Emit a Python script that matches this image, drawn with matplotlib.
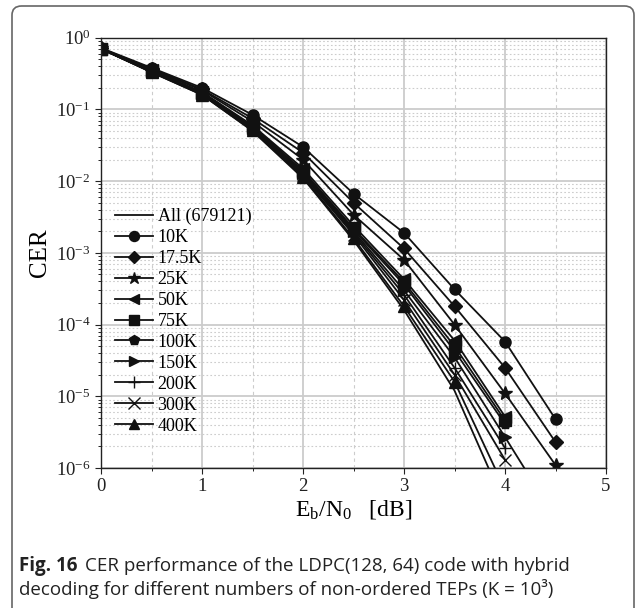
import numpy as np
import matplotlib
matplotlib.use("Agg")
import matplotlib.pyplot as plt
from matplotlib.patches import FancyBboxPatch
from matplotlib.ticker import LogLocator, NullFormatter, MultipleLocator

plt.rcParams['font.family'] = ['Liberation Serif', 'DejaVu Serif']
plt.rcParams['mathtext.fontset'] = 'stix'

ebn0 = [0, 0.5, 1, 1.5, 2, 2.5, 3, 3.5, 4, 4.5]
nan = np.nan
labels = ["All (679121)", "10K", "17.5K", "25K", "50K", "75K", "100K",
          "150K", "200K", "300K", "400K"]
markers = [None, 'o', 'D', '*', '<', 's', 'p', '>', '+', 'x', '^']

cer_all = [0.70, 0.33, 0.16, 0.050, 0.0110, 0.0015, 0.00016, 1.2e-5, 3e-7, nan]
cer_10k = [0.72, 0.38, 0.20, 0.084, 0.030, 0.0067, 0.0019, 3.1e-4, 5.8e-5, 4.8e-6]
cer_17k5 = [0.71, 0.37, 0.19, 0.075, 0.025, 0.0050, 0.00115, 1.8e-4, 2.5e-5, 2.3e-6]
cer_25k = [0.71, 0.36, 0.185, 0.068, 0.020, 0.0034, 0.00080, 1.0e-4, 1.1e-5, 1.1e-6]
cer_50k = [0.70, 0.35, 0.175, 0.060, 0.015, 0.0024, 0.00043, 6.0e-5, 5.2e-6, nan]
cer_75k = [0.70, 0.345, 0.172, 0.058, 0.014, 0.0022, 0.00039, 5.0e-5, 4.6e-6, nan]
cer_100k = [0.70, 0.34, 0.170, 0.057, 0.0135, 0.0021, 0.00036, 4.3e-5, 4.1e-6, nan]
cer_150k = [0.70, 0.34, 0.168, 0.055, 0.0130, 0.0020, 0.00030, 3.5e-5, 2.7e-6, 2e-7]
cer_200k = [0.70, 0.335, 0.166, 0.054, 0.0125, 0.0019, 0.00026, 2.5e-5, 1.9e-6, nan]
cer_300k = [0.70, 0.335, 0.164, 0.053, 0.0120, 0.0018, 0.00022, 2.0e-5, 1.3e-6, nan]
cer_400k = [0.70, 0.33, 0.160, 0.051, 0.0115, 0.0016, 0.00018, 1.6e-5, 5e-7, nan]

series = [cer_all, cer_10k, cer_17k5, cer_25k, cer_50k, cer_75k, cer_100k,
          cer_150k, cer_200k, cer_300k, cer_400k]

W, H = 635, 608
fig = plt.figure(figsize=(W / 100, H / 100), dpi=100)
ax = fig.add_axes([101 / W, 1 - 468 / H, (606 - 101) / W, (468 - 37.7) / H])

for lab, mk, ys in zip(labels, markers, series):
    ms = 8
    if mk == '*':
        ms = 10
    elif mk == 'D':
        ms = 7
    elif mk in ('+', 'x'):
        ms = 9
    ax.plot(ebn0, ys, color='#111111', lw=1.3, marker=mk, ms=ms,
            mew=1.0, label=lab)

ax.set_yscale('log')
ax.set_xlim(0, 5)
ax.set_ylim(1e-6, 1)
ax.xaxis.set_major_locator(MultipleLocator(1))
ax.xaxis.set_minor_locator(MultipleLocator(0.5))
ax.yaxis.set_major_locator(LogLocator(base=10, numticks=10))
ax.yaxis.set_minor_locator(LogLocator(base=10, subs=np.arange(2, 10), numticks=20))
ax.yaxis.set_minor_formatter(NullFormatter())

ax.grid(which='major', color='#cccccc', lw=1.3, ls='-')
ax.grid(which='minor', axis='x', color='#cccccc', lw=0.8, ls=(0, (3, 3)))
ax.grid(which='minor', axis='y', color='#cccccc', lw=0.8, ls=(0, (1.5, 2)))
ax.set_axisbelow(True)

ax.tick_params(which='major', direction='out', length=4, width=0.8,
               labelsize=13.5, colors='#222222')
ax.tick_params(which='minor', direction='out', length=2.5, width=0.6)
for s in ax.spines.values():
    s.set_color('#222222')
    s.set_linewidth(1.0)

ax.set_xlabel(r'$\mathregular{E_b/N_0}$   [dB]', fontsize=17, labelpad=2)
ax.set_ylabel('CER', fontsize=18)
ax.yaxis.set_label_coords(-0.1, 0.5)

leg = ax.legend(loc='upper left', bbox_to_anchor=(0.028, 0.605), frameon=False,
                fontsize=13, handlelength=2.1, handletextpad=0.25,
                labelspacing=0.22, borderaxespad=0.0, borderpad=0.0,
                markerscale=0.9)

# outer rounded frame
frame = FancyBboxPatch((12 / W, -0.2), (634 - 12) / W, 1 - 6 / H + 0.2,
                       boxstyle="round,pad=0,rounding_size=0.015",
                       transform=fig.transFigure, fill=False,
                       ec='#666666', lw=1.2, clip_on=False)
fig.patches.append(frame)

# caption
cap_font = ['Open Sans', 'DejaVu Sans']
cap_size = 13.5
t1 = fig.text(19 / W, 1 - 566 / H, 'Fig. 16', fontsize=cap_size, fontweight='bold',
              family=cap_font, va='center', ha='left', color='#222222')
fig.canvas.draw()
bb = t1.get_window_extent()
fig.text(bb.x1 / W + 7 / W, 1 - 566 / H,
         'CER performance of the LDPC(128, 64) code with hybrid',
         fontsize=cap_size, family=cap_font, va='center', ha='left', color='#222222')
fig.text(19 / W, 1 - 589 / H,
         'decoding for different numbers of non-ordered TEPs (K = 10³)',
         fontsize=cap_size, family=cap_font, va='center', ha='left', color='#222222')

fig.savefig('out.png', dpi=100)
